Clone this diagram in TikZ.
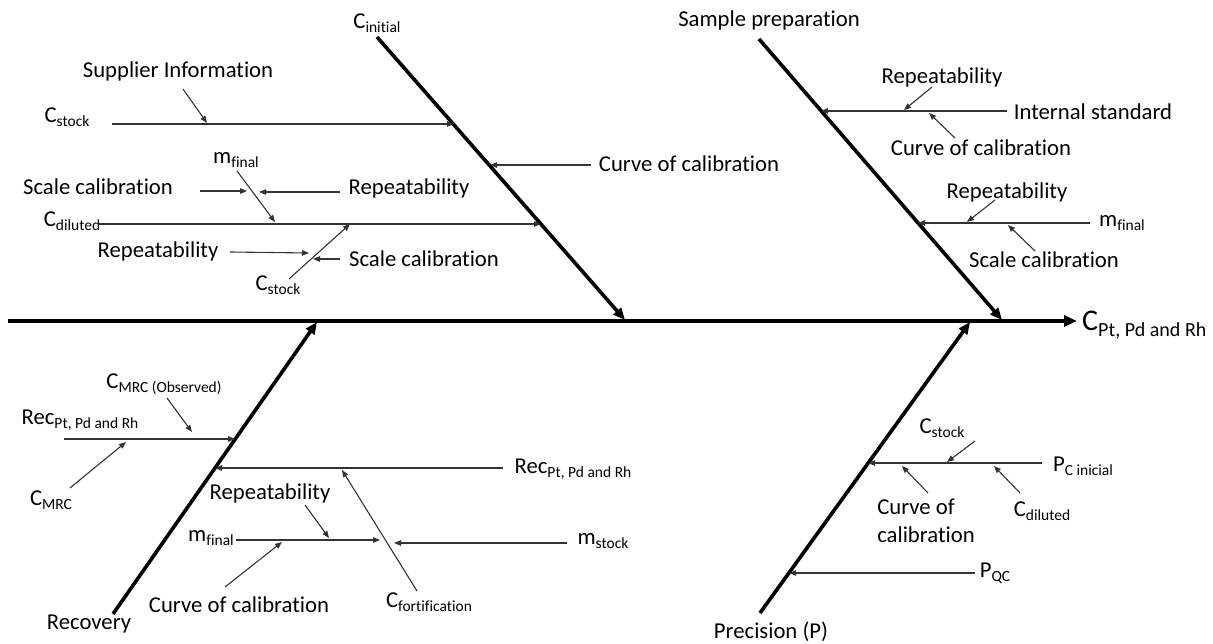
\documentclass[tikz,border=0pt]{standalone}
\usepackage{fontspec}
\setmainfont{Carlito}[Ligatures=NoCommon]
\usetikzlibrary{arrows.meta}
\newcommand\lo[1]{\raisebox{-4pt}{\fontsize{15.5}{16}\selectfont #1}}
\newcommand\mainsz{\fontsize{22.7}{28}\selectfont}
\begin{document}
\begin{tikzpicture}[x=1pt,y=-1pt,
  lbl/.style={inner sep=0pt, font=\mainsz},
  bone/.style={line width=3.6pt, -{Triangle[length=12pt,width=10pt]}},
  twig/.style={line width=1.1pt, draw=black!80, -{Triangle[length=7pt,width=5.5pt]}}]
\useasboundingbox (0,0) rectangle (1213,644);

% spine
\coordinate (s0) at (8,321); \coordinate (s1) at (1077,321);
\draw[line width=3.6pt, -{Triangle[length=13pt,width=11pt]}] (s0) -- (s1);
\node[lbl, anchor=west] (out) at (1082,325) {\fontsize{30}{32}\selectfont C\raisebox{-6pt}{\fontsize{20}{22}\selectfont Pt, Pd and Rh}};

% bones
\coordinate (tlA) at (377,37);  \coordinate (tlB) at (625,320);
\coordinate (trA) at (759,39);  \coordinate (trB) at (1002,320);
\coordinate (blA) at (113,614); \coordinate (blB) at (317,322);
\coordinate (brA) at (760,613); \coordinate (brB) at (970,322);
\draw[bone] (tlA) -- (tlB);
\draw[bone] (trA) -- (trB);
\draw[bone] (blA) -- (blB);
\draw[bone] (brA) -- (brB);

% ---- top left
\node[lbl] (cinit) at (377,23) {C\lo{initial}};
\node[lbl] (supp) at (178,71) {Supplier Information};
\node[lbl] (cst1) at (67,117) {C\lo{stock}};
\node[lbl] (curve1) at (689,164) {Curve of calibration};
\node[lbl] (mf1) at (236,160) {m\lo{final}};
\node[lbl] (scal1) at (98,187) {Scale calibration};
\node[lbl] (rep1) at (409,188) {Repeatability};
\node[lbl] (cdil1) at (72,221) {C\lo{diluted}};
\node[lbl] (rep2) at (158,251) {Repeatability};
\node[lbl] (scal2) at (424,259) {Scale calibration};
\node[lbl] (cst2) at (278,285) {C\lo{stock}};

\coordinate (a1) at (112,124); \coordinate (a2) at (454,124);
\coordinate (a3) at (183,89);  \coordinate (a4) at (207,123);
\coordinate (a5) at (591,165); \coordinate (a6) at (490,165);
\coordinate (a7) at (99,224);  \coordinate (a8) at (541,224);
\coordinate (a9) at (237,171); \coordinate (a10) at (275,222);
\coordinate (a11) at (200,191); \coordinate (a12) at (247,191);
\coordinate (a13) at (340,192); \coordinate (a14) at (259,192);
\coordinate (a15) at (289,279); \coordinate (a16) at (350,224);
\coordinate (a17) at (230,252); \coordinate (a18) at (309,253);
\coordinate (a19) at (340,259); \coordinate (a20) at (313,259);
\draw[twig] (a1) -- (a2);
\draw[twig] (a3) -- (a4);
\draw[twig] (a5) -- (a6);
\draw[twig] (a7) -- (a8);
\draw[twig] (a9) -- (a10);
\draw[twig] (a11) -- (a12);
\draw[twig] (a13) -- (a14);
\draw[twig] (a15) -- (a16);
\draw[twig] (a17) -- (a18);
\draw[twig] (a19) -- (a20);

% ---- top right
\node[lbl] (samp) at (769,20) {Sample preparation};
\node[lbl] (rep3) at (942,77) {Repeatability};
\node[lbl] (istd) at (1093,112) {Internal standard};
\node[lbl] (curve2) at (981,148) {Curve of calibration};
\node[lbl] (rep4) at (1007,192) {Repeatability};
\node[lbl] (mf2) at (1122,223) {m\lo{final}};
\node[lbl] (scal3) at (1044,260) {Scale calibration};

\coordinate (b1) at (1007,111); \coordinate (b2) at (821,111);
\coordinate (b3) at (932,87);   \coordinate (b4) at (904,110);
\coordinate (b5) at (955,138);  \coordinate (b6) at (929,113);
\coordinate (b7) at (1090,223); \coordinate (b8) at (918,223);
\coordinate (b9) at (995,200);  \coordinate (b10) at (967,222);
\coordinate (b11) at (1035,251); \coordinate (b12) at (1008,225);
\draw[twig] (b1) -- (b2);
\draw[twig] (b3) -- (b4);
\draw[twig] (b5) -- (b6);
\draw[twig] (b7) -- (b8);
\draw[twig] (b9) -- (b10);
\draw[twig] (b11) -- (b12);

% ---- bottom left
\node[lbl] (cmrco) at (164,384) {C\lo{MRC (Observed)}};
\node[lbl] (rec1) at (80,420) {Rec\lo{Pt, Pd and Rh}};
\node[lbl] (cmrc) at (51,500) {C\lo{MRC}};
\node[lbl] (rec2) at (573,469) {Rec\lo{Pt, Pd and Rh}};
\node[lbl] (rep5) at (270,493) {Repeatability};
\node[lbl] (mf3) at (211,538) {m\lo{final}};
\node[lbl] (curve3) at (239,605) {Curve of calibration};
\node[lbl] (recov) at (89,624) {Recovery};
\node[lbl] (cfort) at (429,602) {C\lo{fortification}};
\node[lbl] (mst) at (603,541) {m\lo{stock}};

\coordinate (c1) at (64,439);  \coordinate (c2) at (235,439);
\coordinate (c3) at (167,398); \coordinate (c4) at (192,432);
\coordinate (c5) at (70,488);  \coordinate (c6) at (126,442);
\coordinate (c7) at (503,468); \coordinate (c8) at (215,468);
\coordinate (c9) at (417,591); \coordinate (c10) at (342,470);
\coordinate (c11) at (236,540); \coordinate (c12) at (380,540);
\coordinate (c13) at (305,505); \coordinate (c14) at (329,538);
\coordinate (c15) at (225,587); \coordinate (c16) at (282,542);
\coordinate (c17) at (567,543); \coordinate (c18) at (394,543);
\draw[twig] (c1) -- (c2);
\draw[twig] (c3) -- (c4);
\draw[twig] (c5) -- (c6);
\draw[twig] (c7) -- (c8);
\draw[twig] (c9) -- (c10);
\draw[twig] (c11) -- (c12);
\draw[twig] (c13) -- (c14);
\draw[twig] (c15) -- (c16);
\draw[twig] (c17) -- (c18);

% ---- bottom right
\node[lbl] (cst3) at (942,428) {C\lo{stock}};
\node[lbl] (pci) at (1083,466) {P\lo{C inicial}};
\node[lbl, align=left] (curve4) at (926,521) {Curve of\\calibration};
\node[lbl] (cdil2) at (1042,511) {C\lo{diluted}};
\node[lbl] (pqc) at (995,573) {P\lo{QC}};
\node[lbl] (prec) at (771,632) {Precision (P)};

\coordinate (d1) at (1042,463); \coordinate (d2) at (868,463);
\coordinate (d3) at (975,441);  \coordinate (d4) at (947,462);
\coordinate (d5) at (928,493);  \coordinate (d6) at (902,466);
\coordinate (d7) at (1020,493); \coordinate (d8) at (994,466);
\coordinate (d9) at (975,573);  \coordinate (d10) at (789,573);
\draw[twig] (d1) -- (d2);
\draw[twig] (d3) -- (d4);
\draw[twig] (d5) -- (d6);
\draw[twig] (d7) -- (d8);
\draw[twig] (d9) -- (d10);
\end{tikzpicture}
\end{document}
